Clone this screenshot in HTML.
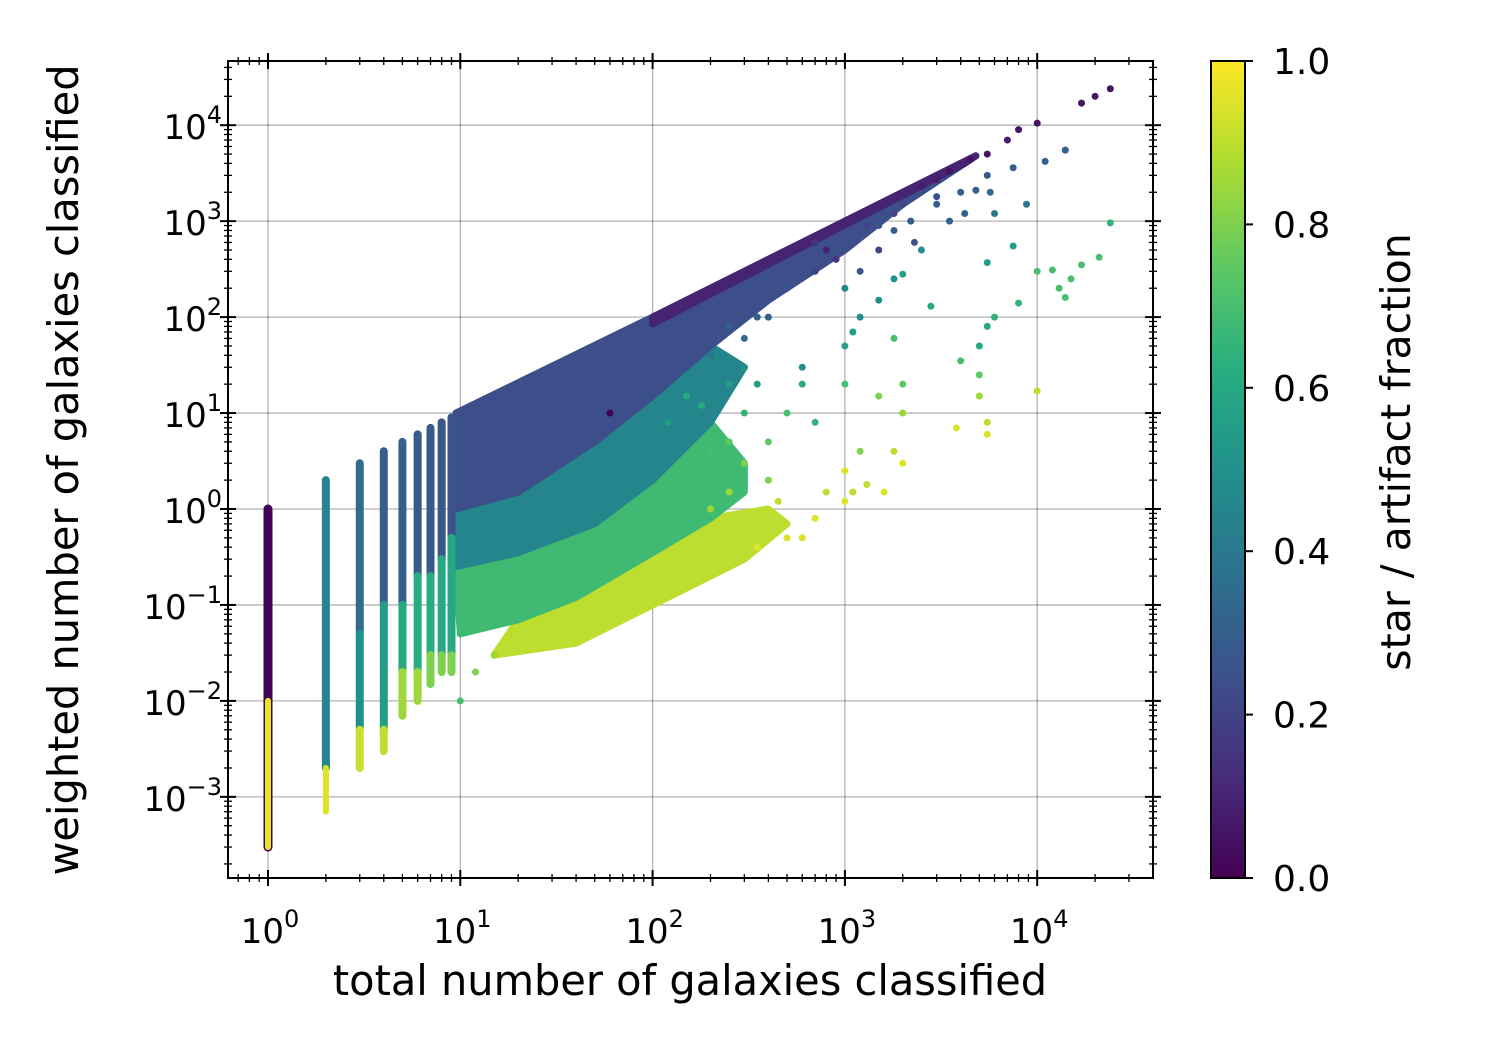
<!DOCTYPE html>
<html><head><meta charset="utf-8"><style>
body{margin:0;background:#fff}
svg text{font-family:"DejaVu Sans","Liberation Sans",sans-serif;fill:#000}
</style></head><body>
<svg id="chart" width="1500" height="1050" viewBox="0 0 1500 1050" xmlns="http://www.w3.org/2000/svg">
<defs>
<linearGradient id="vir" x1="0" y1="1" x2="0" y2="0">
<stop offset="0" stop-color="#440154"/><stop offset="0.125" stop-color="#472d7b"/><stop offset="0.25" stop-color="#3b528b"/><stop offset="0.375" stop-color="#2c728e"/><stop offset="0.5" stop-color="#21918c"/><stop offset="0.625" stop-color="#28ae80"/><stop offset="0.75" stop-color="#5ec962"/><stop offset="0.875" stop-color="#addc30"/><stop offset="1" stop-color="#fde725"/>
</linearGradient>
<clipPath id="pc"><rect x="228" y="61" width="925" height="817"/></clipPath>
</defs>
<g id="grid"></g>
<g id="areas" clip-path="url(#pc)"></g>
<g id="cols" clip-path="url(#pc)"></g>
<g id="pts" clip-path="url(#pc)"></g>
<rect x="228" y="61" width="925" height="817" fill="none" stroke="#000" stroke-width="2"/>
<g id="ticks"></g>
<text x="690" y="995" font-size="41.5" text-anchor="middle">total number of galaxies classified</text>
<text transform="translate(78,470) rotate(-90)" font-size="41.5" text-anchor="middle">weighted number of galaxies classified</text>
<rect x="1211" y="61" width="34" height="817" fill="url(#vir)" stroke="#000" stroke-width="2"/>
<g id="cbt"></g>
<text transform="translate(1410,452) rotate(-90)" font-size="41" text-anchor="middle">star / artifact fraction</text>
</svg>
<script>
const xTicks=[0,1,2,3,4];
const yTicks=[-3,-2,-1,0,1,2,3,4];
const cbTicks=[0,0.2,0.4,0.6,0.8,1.0];
// columns: x, ylo, yhi, fraction, width
const colX=[1,1,2,2,3,3,3,4,4,4,5,5,5,6,6,6,7,7,7,8,8,8,9,9,9];
const colLo=[0.0003,0.0003,0.002,0.0007,0.05,0.005,0.002,0.1,0.005,0.003,0.1,0.02,0.007,0.2,0.02,0.01,0.2,0.03,0.015,0.3,0.03,0.02,0.5,0.03,0.02];
const colHi=[1,0.01,2,0.002,3,0.05,0.005,4,0.1,0.005,5,0.1,0.02,6,0.2,0.02,7,0.2,0.03,8,0.3,0.03,9,0.5,0.03];
const colC=[0.0,0.97,0.45,0.95,0.35,0.5,0.92,0.3,0.55,0.9,0.3,0.6,0.85,0.28,0.62,0.85,0.28,0.62,0.8,0.27,0.6,0.8,0.25,0.6,0.8];
const colW=[9,6,8,6,8,8,8,8,8,8,8,8,8,8,8,8,8,8,8,8,8,8,8,8,8];
// dense regions (data coords), fraction
const areaX=[[15,40,100,300,500,400,200,100,40,20],[9.5,20,50,100,200,300,300,200,100,40,20,10],[9.5,20,50,100,200,300,200,100,50,20,9.5],[9.5,100,4800,2000,1000,400,200,100,50,20,9.5],[100,4800,4200,100]];
const areaY=[[0.03,0.04,0.1,0.3,0.7,1,0.8,0.35,0.12,0.07],[0.25,0.35,0.7,2,8,3,1.5,0.8,0.35,0.12,0.07,0.05],[1,1.5,5,15,50,30,8,2,0.7,0.35,0.25],[10,100,4800,1500,500,150,50,15,5,1.5,1],[100,4800,4000,85]];
const areaC=[0.9,0.68,0.45,0.24,0.1];
// scattered points
const ptX=[5500,7000,8000,10000,17000,20000,24000,14000,11000,7500,
5500,5700,4000,3000,2000,1800,2300,3500,4200,6000,
8800,24000,7500,5500,10000,12000,15000,13000,17000,21000,
14000,8000,6000,5500,5000,4000,5000,5000,5500,5500,
3800,10000,2500,2000,2800,1800,1500,1200,1000,1100,
1000,1000,1800,2000,1500,2000,1800,2000,1000,1000,
1100,800,1200,700,600,500,400,300,400,700,
500,300,600,400,700,500,800,900,1200,1500,
150,250,300,60,200,300,250,12,10,15,
3000,2500,1600,1300,900,4500,3500,1800,1300,700,
250,300,350,200,150,120,180,350,250,450,
350,600,250,1300,1600,3000,2200,1500,4800,200];
const ptY=[5000,7000,9000,10500,17000,20000,24000,5500,4200,3600,
3000,2000,2000,1800,1500,800,600,1000,1200,1200,
1500,960,550,370,300,310,250,200,350,420,
160,140,100,80,50,35,25,15,8,6,
7,17,500,280,130,250,150,100,200,70,
50,20,60,20,15,10,4,3,2.5,1.2,
1.5,1.5,4,8,20,10,5,10,2,0.8,
0.5,0.5,30,100,300,200,500,400,300,500,
15,20,30,10,4,3,1.5,0.02,0.01,0.03,
2700,2300,1500,1200,850,4400,3300,1200,900,600,
80,60,100,40,25,8,12,20,5,1.2,
0.4,0.5,0.6,1.8,1.5,1500,1000,900,2100,1];
const ptC=[0.05,0.08,0.05,0.05,0.05,0.05,0.05,0.3,0.3,0.3,
0.28,0.35,0.3,0.25,0.2,0.3,0.25,0.3,0.3,0.4,
0.4,0.65,0.55,0.55,0.7,0.7,0.7,0.7,0.7,0.7,
0.7,0.65,0.65,0.6,0.6,0.7,0.75,0.85,0.9,0.95,
0.95,0.9,0.5,0.55,0.6,0.5,0.5,0.5,0.45,0.55,
0.55,0.7,0.7,0.75,0.8,0.85,0.9,0.95,0.95,0.95,
0.9,0.9,0.8,0.65,0.6,0.7,0.75,0.65,0.8,0.95,
0.95,0.9,0.5,0.3,0.2,0.25,0.1,0.15,0.25,0.2,
0.6,0.55,0.5,0.0,0.7,0.8,0.85,0.8,0.7,0.85,
0.08,0.08,0.1,0.1,0.1,0.05,0.05,0.2,0.2,0.15,
0.3,0.35,0.3,0.4,0.45,0.55,0.6,0.55,0.75,0.9,
0.95,0.95,0.9,0.9,0.95,0.3,0.3,0.25,0.3,0.85];

const NS='http://www.w3.org/2000/svg';
function xs(v){return 268+Math.log10(v)*192.3;}
function ys(v){return 509-Math.log10(v)*95.95;}
function cs(f){return 878-f*817;}
const stops=[[68,1,84],[71,45,123],[59,82,139],[44,114,142],[33,145,140],[40,174,128],[94,201,98],[173,220,48],[253,231,37]];
function vir(f){f=Math.max(0,Math.min(1,f))*8;const i=Math.min(7,Math.floor(f)),t=f-i;const a=stops[i],b=stops[i+1];return 'rgb('+a.map((c,k)=>Math.round(c+(b[k]-c)*t)).join(',')+')';}
function mk(tag,attrs,parent){const e=document.createElementNS(NS,tag);for(const k in attrs)e.setAttribute(k,attrs[k]);parent.appendChild(e);return e;}
const G=id=>document.getElementById(id);

xTicks.forEach(t=>{const l=mk('line',{x1:xs(10**t),x2:xs(10**t),y1:61,y2:878,stroke:'#000','stroke-opacity':0.3,'stroke-width':1.3},G('grid'));

});
yTicks.forEach(t=>{const l=mk('line',{y1:ys(10**t),y2:ys(10**t),x1:228,x2:1153,stroke:'#000','stroke-opacity':0.3,'stroke-width':1.3},G('grid'));

});

areaX.forEach((ax,i)=>{const p=ax.map((x,j)=>xs(x)+','+ys(areaY[i][j])).join(' ');
const e=mk('polygon',{points:p,fill:vir(areaC[i]),'stroke':vir(areaC[i]),'stroke-width':7,'stroke-linejoin':'round'},G('areas'));

});

colX.forEach((x,i)=>{const e=mk('line',{x1:xs(x),x2:xs(x),y1:ys(colHi[i]),y2:ys(colLo[i]),stroke:vir(colC[i]),'stroke-width':colW[i],'stroke-linecap':'round'},G('cols'));

});

ptX.forEach((x,i)=>{const e=mk('circle',{cx:xs(x),cy:ys(ptY[i]),r:3.5,fill:vir(ptC[i])},G('pts'));

});

const T=G('ticks');
function tick(x1,y1,x2,y2,w){mk('line',{x1,y1,x2,y2,stroke:'#000','stroke-width':w},T);}
for(let d=-1;d<=4;d++)for(let m=1;m<10;m++){const v=m*10**d;const X=xs(v);if(X<229||X>1152)continue;const L=m==1?8:4;const w=m==1?2:1.3;
tick(X,878-L,X,878+L,w);tick(X,61-L,X,61+L,w);}
for(let d=-4;d<=4;d++)for(let m=1;m<10;m++){const v=m*10**d;const Y=ys(v);if(Y<62||Y>877)continue;const L=m==1?8:4;const w=m==1?2:1.3;
tick(228-L,Y,228+L,Y,w);tick(1153-L,Y,1153+L,Y,w);}
function expLabel(x,y,e,anchor,name){const t=mk('text',{x,y,'font-size':34,'text-anchor':anchor},T);


const s=String(e).replace('-','\u2212');t.innerHTML='10<tspan dy="-16" font-size="24">'+s+'</tspan>';}
xTicks.forEach(t=>expLabel(xs(10**t)+2,943,t,'middle','x-tick-label'));
yTicks.forEach(t=>expLabel(222,ys(10**t)+14,t,'end','y-tick-label'));
cbTicks.forEach(f=>{const Y=cs(f);mk('line',{x1:1245,x2:1253,y1:Y,y2:Y,stroke:'#000','stroke-width':2},G('cbt'));
const t=mk('text',{x:1273,y:Y+13,'font-size':36},G('cbt'));


t.textContent=f.toFixed(1);});
</script>
</body></html>
